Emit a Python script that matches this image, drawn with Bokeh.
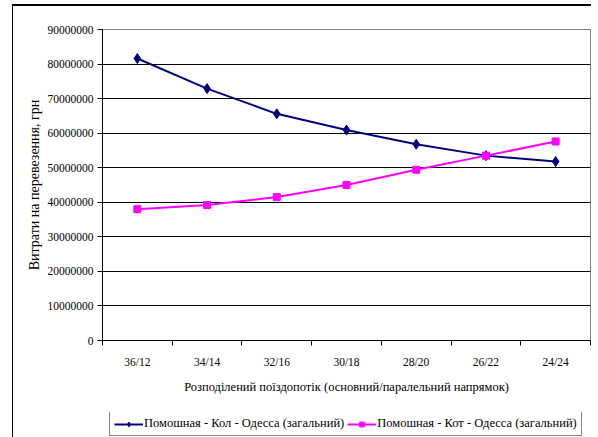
from bokeh.plotting import figure
from bokeh.layouts import column
from bokeh.models import (Range1d, FixedTicker, NumeralTickFormatter, Legend, LegendItem)
from bokeh.embed import file_html
from bokeh.resources import INLINE

categories = ["36/12", "34/14", "32/16", "30/18", "28/20", "26/22", "24/24"]
kol_values = [81600000, 72900000, 65600000, 60900000, 56800000, 53500000, 51800000]
kot_values = [38000000, 39200000, 41500000, 45000000, 49400000, 53500000, 57600000]
y_ticks = [0, 10000000, 20000000, 30000000, 40000000, 50000000, 60000000, 70000000, 80000000, 90000000]
name_kol = "Помошная - Кол - Одесса (загальний)"
name_kot = "Помошная - Кот - Одесса (загальний)"
x_label = "Розподілений поїздопотік (основний/паралельний напрямок)"
y_label = "Витрати на перевезення, грн"

FONT = "Liberation Serif"
FS = "11.5px"
KOL_COLOR = "#000080"
KOT_COLOR = "#FF00FF"

xs = [i + 0.5 for i in range(len(categories))]

p = figure(width=578, height=406, output_backend="svg", toolbar_location=None,
           x_range=Range1d(0, len(categories)), y_range=Range1d(0, 90000000),
           min_border_left=89, min_border_right=1, min_border_top=23, min_border_bottom=72)
p.background_fill_color = "white"
p.border_fill_color = "white"
p.outline_line_color = "#808080"
p.outline_line_width = 1

# x axis
xa = p.xaxis[0]
xa.ticker = FixedTicker(ticks=xs, minor_ticks=list(range(len(categories) + 1)))
xa.major_label_overrides = {x: c for x, c in zip(xs, categories)}
xa.major_tick_line_color = None
xa.major_tick_out = 5
xa.major_tick_in = 0
xa.minor_tick_line_color = "black"
xa.minor_tick_out = 5
xa.minor_tick_in = 0
xa.axis_line_color = "black"
xa.major_label_standoff = 10
xa.major_label_text_font = FONT
xa.major_label_text_font_size = FS
xa.major_label_text_color = "black"
xa.axis_label = x_label
xa.axis_label_text_font = FONT
xa.axis_label_text_font_size = "12.5px"
xa.axis_label_text_font_style = "normal"
xa.axis_label_text_color = "black"
xa.axis_label_standoff = 9

# y axis
ya = p.yaxis[0]
ya.ticker = FixedTicker(ticks=y_ticks)
ya.formatter = NumeralTickFormatter(format="0")
ya.major_tick_out = 5
ya.major_tick_in = 0
ya.major_tick_line_color = "black"
ya.minor_tick_line_color = None
ya.axis_line_color = "black"
ya.major_label_standoff = 4
ya.major_label_text_font = FONT
ya.major_label_text_font_size = FS
ya.major_label_text_color = "black"
ya.axis_label = y_label
ya.axis_label_text_font = FONT
ya.axis_label_text_font_size = "14px"
ya.axis_label_text_font_style = "normal"
ya.axis_label_text_color = "black"
ya.axis_label_standoff = 3

p.xgrid.grid_line_color = None
p.ygrid.ticker = FixedTicker(ticks=y_ticks[1:-1])
p.ygrid.grid_line_color = "black"
p.ygrid.grid_line_width = 1

p.line(xs, kol_values, line_color=KOL_COLOR, line_width=2)
p.scatter(xs, kol_values, marker="diamond", size=10, fill_color=KOL_COLOR, line_color=KOL_COLOR)
p.line(xs, kot_values, line_color=KOT_COLOR, line_width=2)
p.scatter(xs, kot_values, marker="square", size=7, fill_color=KOT_COLOR, line_color=KOT_COLOR)

# legend strip below the chart (its own small figure so the legend lies inside a frame;
# the series are out of this strip's view, they only supply the legend glyphs)
p2 = figure(width=578, height=25, output_backend="svg", toolbar_location=None,
            x_range=Range1d(0, 1), y_range=Range1d(0, 1),
            x_axis_type=None, y_axis_type=None,
            min_border_left=89, min_border_right=1, min_border_top=0, min_border_bottom=0)
p2.outline_line_color = None
p2.background_fill_color = "white"
p2.border_fill_color = "white"
ll1 = p2.line(xs, kol_values, line_color=KOL_COLOR, line_width=2)
ls1 = p2.scatter(xs, kol_values, marker="diamond", size=10, fill_color=KOL_COLOR, line_color=KOL_COLOR)
ll2 = p2.line(xs, kot_values, line_color=KOT_COLOR, line_width=2)
ls2 = p2.scatter(xs, kot_values, marker="square", size=7, fill_color=KOT_COLOR, line_color=KOT_COLOR)

legend = Legend(items=[LegendItem(label=name_kol, renderers=[ll1, ls1]),
                       LegendItem(label=name_kot, renderers=[ll2, ls2])],
                orientation="horizontal", location=(7, 1),
                glyph_width=29, glyph_height=12, label_standoff=1, spacing=3,
                padding=4, margin=0,
                label_text_font=FONT, label_text_font_size="12.5px", label_text_color="black",
                border_line_color="black", border_line_width=1,
                background_fill_color="white", background_fill_alpha=1)
p2.add_layout(legend, "center")

layout = column(p, p2, margin=(4, 0, 0, 12),
                styles={"border-left": "1px solid black", "border-top": "2px solid black"})

open("out.html", "w").write(file_html(layout, INLINE))
